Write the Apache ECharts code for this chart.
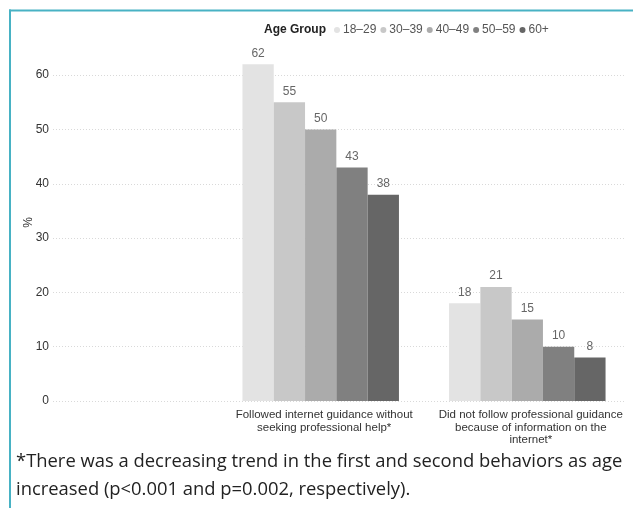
<!DOCTYPE html>
<html>
<head>
<meta charset="utf-8">
<script src="https://cdn.jsdelivr.net/npm/echarts@6/dist/echarts.min.js"></script>
<style>
html,body{margin:0;padding:0;background:#fff;}
#chart{width:633px;height:508px;}
</style>
</head>
<body>
<div id="chart"></div>
<script>
const categories = [
  "Followed internet guidance without\nseeking professional help*",
  "Did not follow professional guidance\nbecause of information on the\ninternet*"
];
const ageGroups = ["18–29", "30–39", "40–49", "50–59", "60+"];
const values1829 = [62, 18];
const values3039 = [55, 21];
const values4049 = [50, 15];
const values5059 = [43, 10];
const values60 = [38, 8];
const seriesValues = [values1829, values3039, values4049, values5059, values60];
const colors = ["#e3e3e3", "#c8c8c8", "#ababab", "#808080", "#666666"];
const yTicks = [0, 10, 20, 30, 40, 50, 60];
const caption = "*There was a decreasing trend in the first and second behaviors as age\nincreased (p<0.001 and p=0.002, respectively).";

const FONT = "'Liberation Sans', Arial, sans-serif";
const chart = echarts.init(document.getElementById('chart'), null, {renderer: 'canvas'});

const series = ageGroups.map((name, i) => ({
  name: name,
  type: 'bar',
  xAxisIndex: 1,
  yAxisIndex: 1,
  data: seriesValues[i],
  barWidth: 31.3,
  barGap: '0%',
  itemStyle: {color: colors[i]},
  label: {
    show: true,
    position: 'top',
    distance: 5,
    color: '#666',
    fontSize: 12,
    fontFamily: FONT
  }
}));

chart.setOption({
  animation: false,
  backgroundColor: '#fff',
  color: colors,
  title: {
    text: 'Age Group',
    left: 264,
    top: 24,
    padding: 0,
    textStyle: {fontSize: 12, fontWeight: 'bold', color: '#222', fontFamily: FONT}
  },
  legend: {
    data: ageGroups,
    left: 334,
    top: 24,
    icon: 'circle',
    itemWidth: 6,
    itemHeight: 6,
    itemGap: 4,
    padding: 0,
    textStyle: {fontSize: 12, color: '#555', fontFamily: FONT, padding: [0, 0, 0, -2]}
  },
  grid: [
    {left: 53, right: 8, top: 48, bottom: 107},
    {left: 217.4, right: 2.4, top: 48, bottom: 107}
  ],
  xAxis: [
    {gridIndex: 0, type: 'value', show: false, min: 0, max: 1},
    {
      gridIndex: 1,
      type: 'category',
      data: categories,
      axisLine: {show: false},
      axisTick: {show: false},
      axisLabel: {
        margin: 8,
        fontSize: 11.5,
        lineHeight: 12.5,
        color: '#333',
        fontFamily: FONT,
        padding: [0, 0, 0, 7],
        interval: 0
      }
    }
  ],
  yAxis: [
    {
      gridIndex: 0,
      type: 'value',
      min: 0,
      max: 65,
      interval: 10,
      name: '%',
      nameLocation: 'middle',
      nameRotate: 90,
      nameGap: 18,
      nameMoveOverlap: false,
      nameTextStyle: {fontSize: 12, color: '#333', fontFamily: FONT, padding: [0, 0, 0, 4]},
      axisLine: {show: false},
      axisTick: {show: false},
      axisLabel: {
        margin: 4,
        fontSize: 12,
        color: '#333',
        fontFamily: FONT,
        showMaxLabel: false,
        formatter: function (v) { return yTicks.indexOf(v) >= 0 ? String(v) : ''; }
      },
      splitLine: {
        show: true,
        showMaxLine: false,
        lineStyle: {color: '#d9d9d9', type: [1, 2], width: 1}
      }
    },
    {
      gridIndex: 1,
      type: 'value',
      min: 0,
      max: 65,
      interval: 10,
      show: false,
      splitLine: {show: false}
    }
  ],
  series: series,
  graphic: [
    {type: 'rect', shape: {x: 9, y: 9.5, width: 624, height: 2}, style: {fill: '#48b2c4'}, silent: true},
    {type: 'rect', shape: {x: 9, y: 9.5, width: 2, height: 499}, style: {fill: '#48b2c4'}, silent: true},
    {
      type: 'text',
      left: 16,
      top: 448,
      style: {
        text: caption,
        fontSize: 18.4,
        lineHeight: 28,
        fill: '#222',
        fontFamily: "'Open Sans', 'Noto Sans', sans-serif"
      }
    }
  ]
});
</script>
</body>
</html>
